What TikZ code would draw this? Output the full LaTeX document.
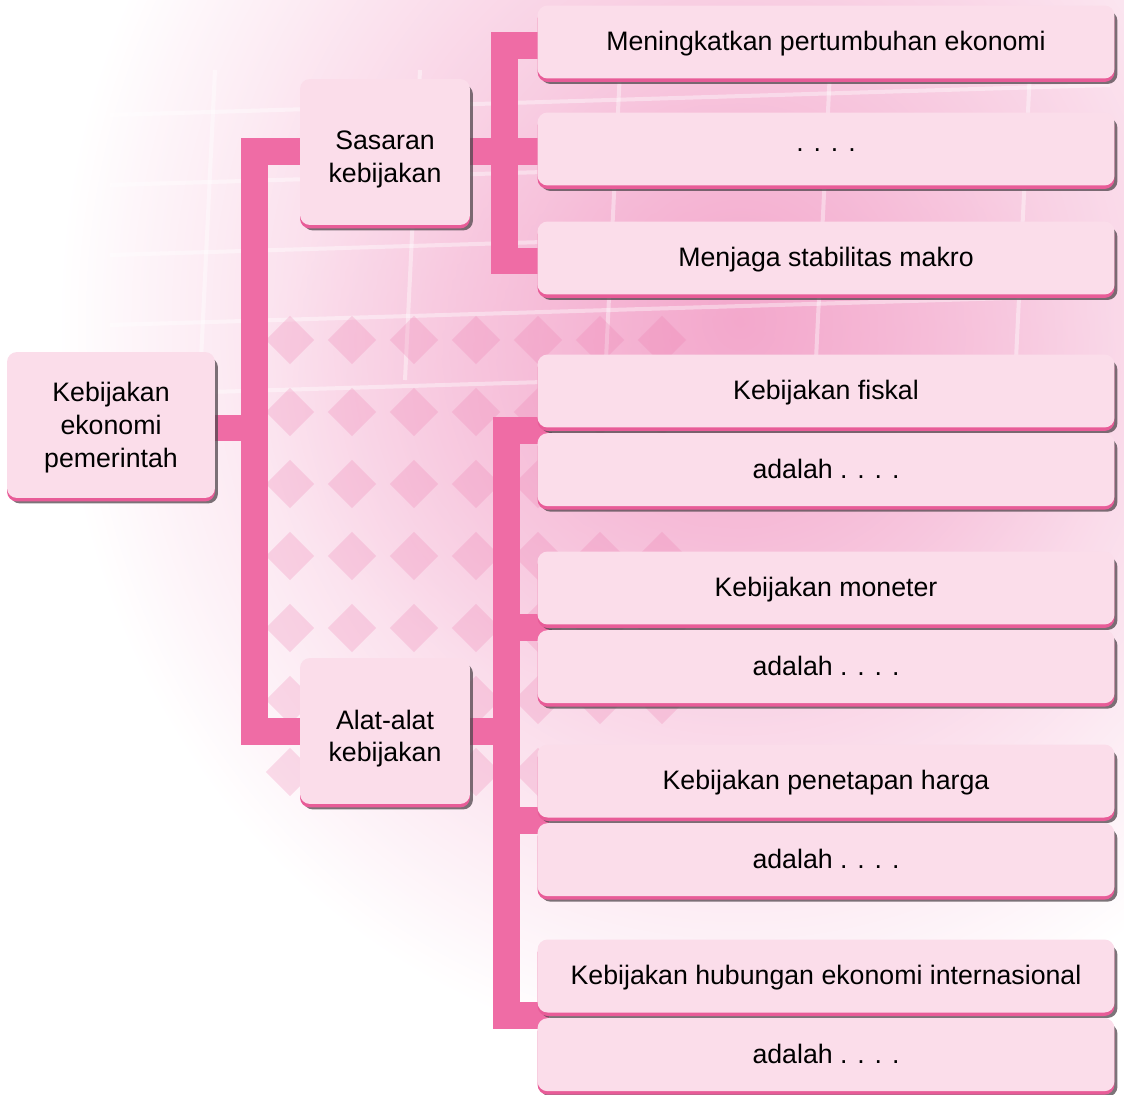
\documentclass[tikz,border=0pt]{standalone}
\usepackage{fontspec}
\setmainfont{Liberation Sans}
\usetikzlibrary{calc,positioning,shadows,fadings}
\definecolor{barPink}{RGB}{239,108,165}
\definecolor{boxFill}{RGB}{251,221,234}
\definecolor{edgePink}{RGB}{232,92,152}
\definecolor{shadowGrey}{RGB}{80,70,76}
\definecolor{photoPink}{RGB}{243,168,204}
\definecolor{latticePink}{RGB}{236,120,172}
\pgfdeclarelayer{photo}
\pgfdeclarelayer{links}
\pgfsetlayers{photo,links,main}
\tikzfading[name=photoFade,inner color=transparent!0,outer color=transparent!100]
\newcommand{\firstlift}[1]{\rule{0pt}{#1}}

\begin{document}
\begin{tikzpicture}[x=0.02cm,y=-0.02cm,
  ilbox/.style={rounded corners=0.2cm,fill=boxFill,align=center,inner sep=0pt,
    font=\fontsize{15.2}{18.6}\selectfont,
    drop shadow={shadow xshift=0.06cm,shadow yshift=-0.11cm,fill=shadowGrey,opacity=0.75},
    general shadow={shadow yshift=-0.07cm,fill=edgePink}},
  widebox/.style={ilbox,minimum width=11.54cm,minimum height=1.46cm,text height=1.2em,text depth=0.22em},
  conbar/.style={draw=barPink,line width=0.54cm,
    preaction={draw=shadowGrey,draw opacity=0.55,transform canvas={xshift=0.05cm,yshift=-0.05cm}}}]
\path[use as bounding box] (0,0) rectangle (1124,1094);

% photo in the back
\begin{pgfonlayer}{photo}
\fill[photoPink,path fading=photoFade] (60,-420) rectangle (1420,1060);
\fill[photoPink,opacity=0.35,path fading=photoFade] (250,100) rectangle (1124,700);
\foreach \gy in {95,165,235,305,375}
  \draw[white,opacity=0.4,line width=0.08cm] (110,\gy+20) -- (1110,\gy-10);
\foreach \gx in {215,420,620,830,1030}
  \draw[white,opacity=0.4,line width=0.08cm] (\gx,70) -- (\gx-15,380);
\foreach \i in {0,...,6}
  \foreach \j in {0,...,6}
    \fill[latticePink,opacity=0.24,rotate around={45:({290+\i*62},{340+\j*72})}]
      ({290+\i*62-17},{340+\j*72-17}) rectangle ({290+\i*62+17},{340+\j*72+17});
\end{pgfonlayer}

% boxes
\node[ilbox,minimum width=4.16cm,minimum height=2.92cm] (root) at (111,425) {\firstlift{0.93em}Kebijakan\\ekonomi\\pemerintah};
\node[ilbox,minimum width=3.4cm,minimum height=2.92cm] (sas) at (385,152) {\firstlift{1.25em}Sasaran\\kebijakan};
\node[ilbox,minimum width=3.4cm,minimum height=2.92cm] (alat) at (385,731) {\firstlift{1.3em}Alat-alat\\kebijakan};

\node[widebox] (g1) at (826,42) {Meningkatkan pertumbuhan ekonomi};
\node[widebox,text height=0.3em,text depth=0em] (g2) at (826,149) {. . . .};
\node[widebox] (g3) at (826,258) {Menjaga stabilitas makro};

\node[widebox] (t1) at (826,391) {Kebijakan fiskal};
\node[widebox,below=0.1cm of t1] (t1d) {adalah . . . .};
\node[widebox] (t2) at (826,588) {Kebijakan moneter};
\node[widebox,below=0.1cm of t2] (t2d) {adalah . . . .};
\node[widebox] (t3) at (826,781) {Kebijakan penetapan harga};
\node[widebox,below=0.1cm of t3] (t3d) {adalah . . . .};
\node[widebox] (t4) at (826,976) {Kebijakan hubungan ekonomi internasional};
\node[widebox,below=0.1cm of t4] (t4d) {adalah . . . .};

% connectors
\begin{pgfonlayer}{links}
\coordinate (lspine) at (254,0);
\coordinate (uspine) at (504,0);
\coordinate (dspine) at (506,0);
\coordinate (s1) at ($(t1.south west)!0.5!(t1d.north west)+(12,0)$);
\coordinate (s2) at ($(t2.south west)!0.5!(t2d.north west)+(12,0)$);
\coordinate (s3) at ($(t3.south west)!0.5!(t3d.north west)+(12,0)$);
\coordinate (s4) at ($(t4.south west)!0.5!(t4d.north west)+(12,0)$);
\coordinate (u1) at ($(g1.west)+(12,4)$);
\coordinate (u3) at ($(g3.west)+(12,3)$);
\draw[conbar] (sas.west) -- (sas.west -| lspine) -- (alat.west -| lspine) -- (alat.west)
  ($(root.east)+(0,3)$) -- ($(root.east -| lspine)+(0,3)$);
\draw[conbar] (u1) -- (u1 -| uspine) -- (u3 -| uspine) -- (u3)
  (sas.east) -- ($(sas.east -| g2.west)+(12,0)$);
\draw[conbar] (s1) -- (s1 -| dspine) -- (s4 -| dspine) -- (s4)
  (s2 -| dspine) -- (s2) (s3 -| dspine) -- (s3)
  (alat.east) -- (alat.east -| dspine);
\end{pgfonlayer}
\end{tikzpicture}
\end{document}
